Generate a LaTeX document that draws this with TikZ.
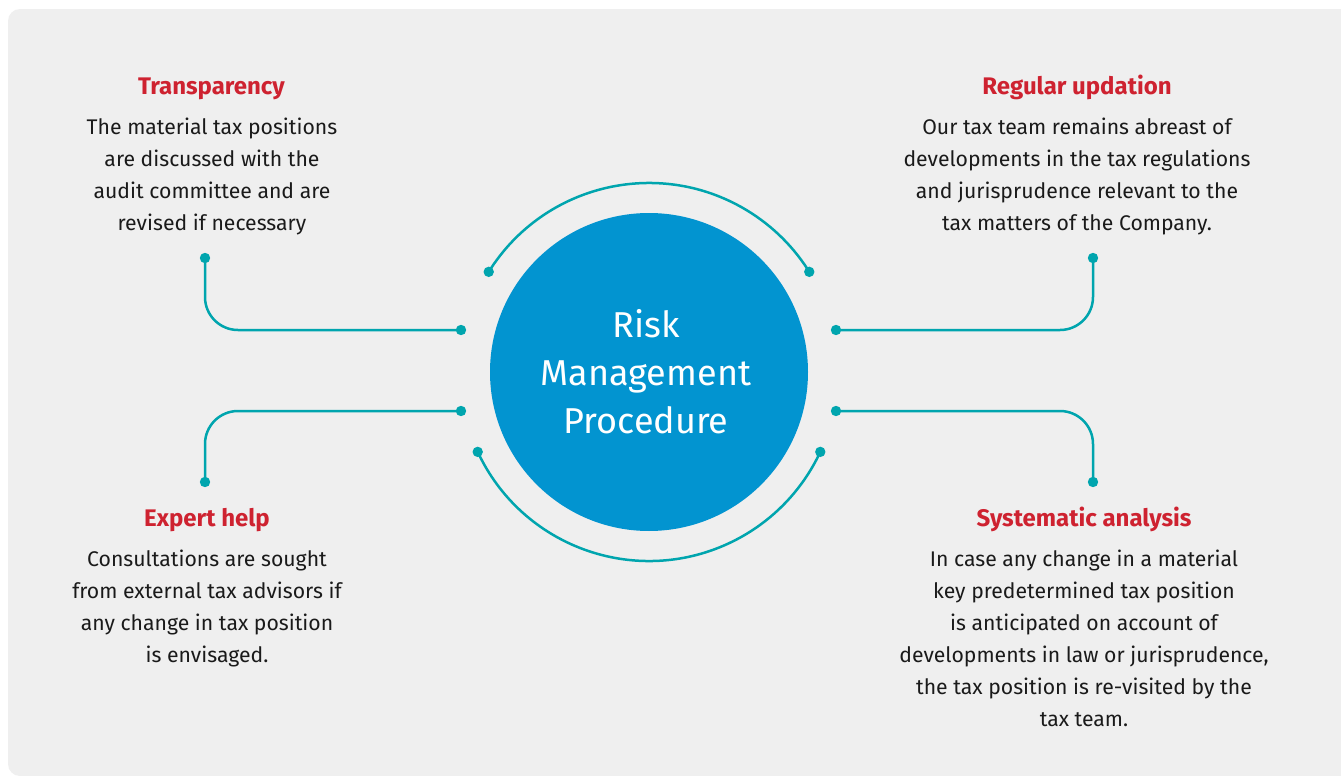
\documentclass[tikz,border=0pt]{standalone}
\usepackage{fontspec}
\setmainfont{Fira Sans}
\usetikzlibrary{calc}
\definecolor{bgc}{HTML}{EFEFEF}
\definecolor{teal}{HTML}{00A5AE}
\definecolor{blueC}{HTML}{0294D0}
\definecolor{redT}{HTML}{CE2230}
\definecolor{txt}{HTML}{1A1A1A}
\begin{document}
\begin{tikzpicture}[x=0.5pt,y=-0.5pt,
  dot/.style={circle,fill=teal,inner sep=0pt,minimum size=5.2pt},
  link/.style={draw=teal,line width=1.25pt,rounded corners=16.5pt},
  ttl/.style={anchor=base,inner sep=0pt,text=redT,font=\fontsize{12}{16}\selectfont\bfseries},
  body/.style={anchor=base,inner sep=0pt,text=txt,align=center,font=\fontsize{10.6}{16}\selectfont},
  hubtxt/.style={anchor=base,inner sep=0pt,text=white,font=\fontsize{18}{24}\selectfont},
  hub/.style={circle,fill=blueC,inner sep=0pt,minimum size=159pt}]
\useasboundingbox (0,0) rectangle (1341,776);
\fill[white] (0,0) rectangle (1341,776);
\begin{scope}
\clip (0,0) rectangle (1341,776);
\fill[bgc,rounded corners=6pt] (8,9) rectangle (1360,776);
\end{scope}
% hub
\node[hub] (hub) at (649,372) {};
\node[hubtxt] (h1) at (646,337) {Risk};
\node[hubtxt] (h2) at (646,385) {Management};
\node[hubtxt] (h3) at (646,433) {Procedure};
% arcs
\coordinate (c) at (649,372);
\node[dot] (ta1) at ($(c)+(148:94.5pt)$) {};
\node[dot] (ta2) at ($(c)+(32:94.5pt)$) {};
\node[dot] (ba1) at ($(c)+(205:94.5pt)$) {};
\node[dot] (ba2) at ($(c)+(335:94.5pt)$) {};
\draw[teal,line width=1.25pt] (ta1.center) arc[start angle=148,end angle=32,radius=94.5pt];
\draw[teal,line width=1.25pt] (ba1.center) arc[start angle=205,end angle=335,radius=94.5pt];
% connectors
\node[dot] (tl1) at (205,258) {};
\node[dot] (tl2) at (461,330) {};
\node[dot] (bl1) at (205,482) {};
\node[dot] (bl2) at (461,411) {};
\node[dot] (tr1) at (1093,258) {};
\node[dot] (tr2) at (836,330) {};
\node[dot] (br1) at (1093,482) {};
\node[dot] (br2) at (836,411) {};
\draw[link] (tl1.center) |- (tl2.center);
\draw[link] (bl1.center) |- (bl2.center);
\draw[link] (tr1.center) |- (tr2.center);
\draw[link] (br1.center) |- (br2.center);
% texts
\node[ttl] (t1) at (211.5,94) {Transparency};
\node[body] (b1) at (212,230) {The material tax positions\\are discussed with the\\audit committee and are\\revised if necessary};
\node[ttl] (t2) at (1077,94) {Regular updation};
\node[body] (b2) at (1077,230) {Our tax team remains abreast of\\developments in the tax regulations\\and jurisprudence relevant to the\\tax matters of the Company.};
\node[ttl] (t3) at (207,526) {Expert help};
\node[body] (b3) at (207,662) {Consultations are sought\\from external tax advisors if\\any change in tax position\\is envisaged.};
\node[ttl] (t4) at (1084,526) {Systematic analysis};
\node[body] (b4) at (1084,726) {In case any change in a material\\key predetermined tax position\\is anticipated on account of\\developments in law or jurisprudence,\\the tax position is re-visited by the\\tax team.};
\end{tikzpicture}
\end{document}
